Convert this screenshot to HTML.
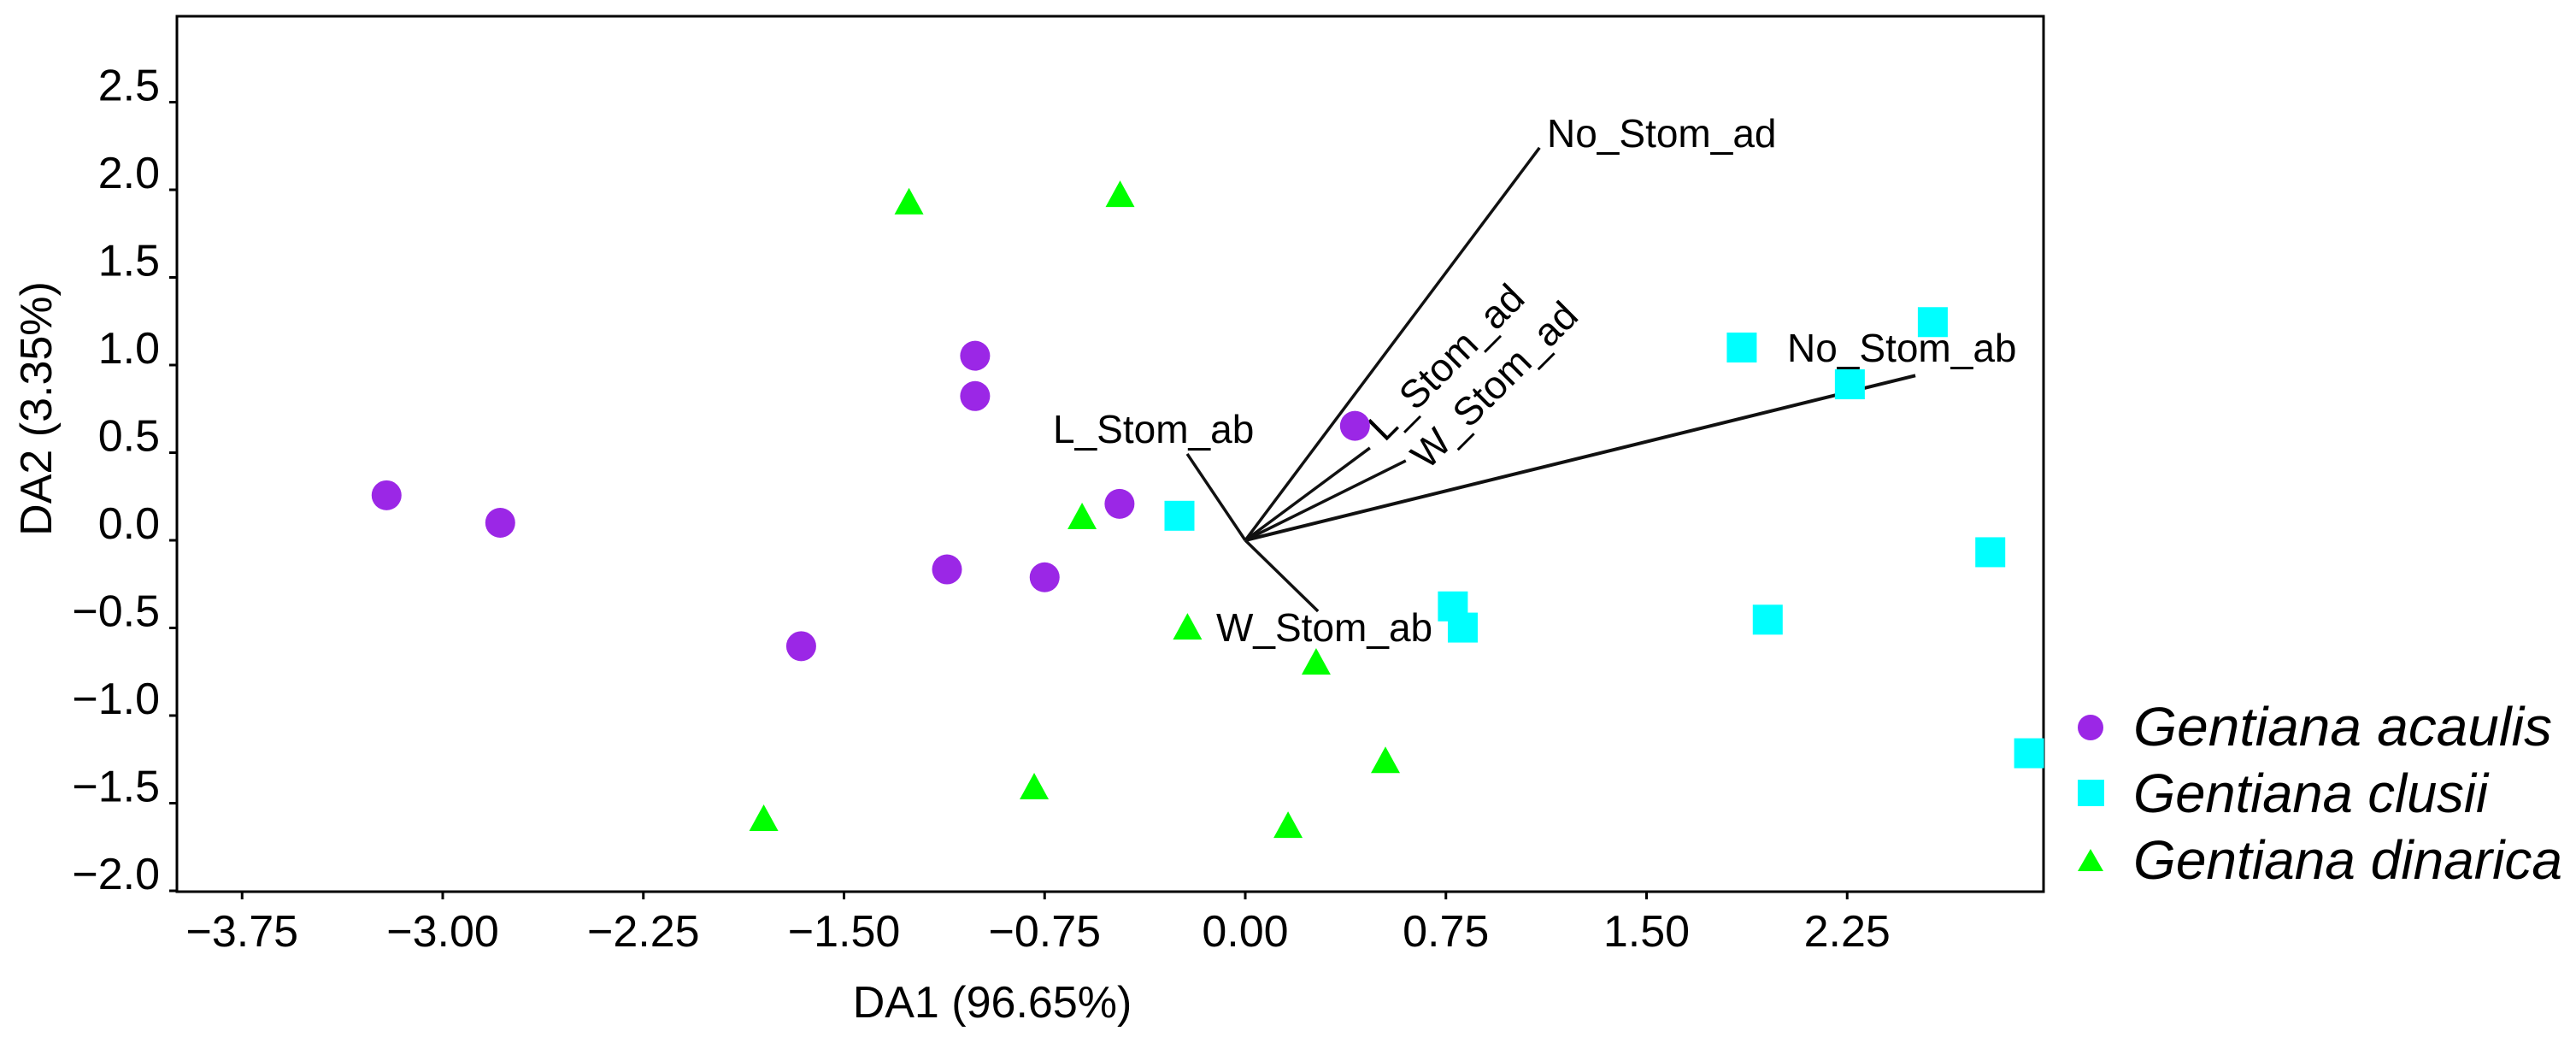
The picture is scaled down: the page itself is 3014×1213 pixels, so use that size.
<!DOCTYPE html>
<html><head><meta charset="utf-8"><title>DA biplot</title>
<style>html,body{margin:0;padding:0;background:#fff}svg{display:block}</style></head>
<body>
<svg id="chart" width="3014" height="1213" viewBox="0 0 3014 1213" xmlns="http://www.w3.org/2000/svg" font-family="'Liberation Sans', Arial, sans-serif"></svg>
<script>
const xTicks = [-3.75, -3.00, -2.25, -1.50, -0.75, 0.00, 0.75, 1.50, 2.25];
const xTickLabels = ["\u22123.75","\u22123.00","\u22122.25","\u22121.50","\u22120.75","0.00","0.75","1.50","2.25"];
const yTicks = [2.5, 2.0, 1.5, 1.0, 0.5, 0.0, -0.5, -1.0, -1.5, -2.0];
const yTickLabels = ["2.5","2.0","1.5","1.0","0.5","0.0","\u22120.5","\u22121.0","\u22121.5","\u22122.0"];
const acaulisX = [-3.21, -2.785, -1.01, -1.01, 0.41, -0.47, -1.115, -0.75, -1.66];
const acaulisY = [0.257, 0.10, 1.053, 0.823, 0.653, 0.208, -0.166, -0.211, -0.604];
const clusiiX = [-0.246, 1.856, 2.57, 2.26, 2.785, 0.776, 0.813, 1.953, 2.93];
const clusiiY = [0.14, 1.10, 1.245, 0.89, -0.068, -0.377, -0.498, -0.453, -1.215];
const dinaricaX = [-1.257, -0.468, -0.61, -0.216, 0.265, 0.524, -0.789, -1.80, 0.16];
const dinaricaY = [1.928, 1.97, 0.132, -0.498, -0.698, -1.26, -1.41, -1.59, -1.63];
const vecNames = ["No_Stom_ad","L_Stom_ad","W_Stom_ad","No_Stom_ab","L_Stom_ab","W_Stom_ab"];
const vecX = [1.10, 0.466, 0.60, 2.505, -0.217, 0.272];
const vecY = [2.24, 0.527, 0.454, 0.94, 0.493, -0.405];

const NS = "http://www.w3.org/2000/svg";
const svg = document.getElementById("chart");
const L = 207, R = 2391, T = 19, B = 1043;
const X0 = 1457, XS = 313, Y0 = 632, YS = 205;
const sx = v => X0 + v * XS;
const sy = v => Y0 - v * YS;
function el(tag, attrs, parent) {
  const e = document.createElementNS(NS, tag);
  for (const k in attrs) e.setAttribute(k, attrs[k]);
  (parent || svg).appendChild(e);
  return e;
}
const frame = el("rect", {x:L, y:T, width:R-L, height:B-T, fill:"none", stroke:"#000", "stroke-width":3});


const xAxis = el("g", {});


xTicks.forEach((v, i) => {
  el("line", {x1:sx(v), x2:sx(v), y1:B, y2:B+9, stroke:"#000", "stroke-width":3}, xAxis);
  const t = el("text", {x:sx(v), y:1107, "font-size":52, "text-anchor":"middle", fill:"#000"}, xAxis);
  
  
  t.textContent = xTickLabels[i];
});
const yAxis = el("g", {});


yTicks.forEach((v, i) => {
  el("line", {x1:L-9, x2:L, y1:sy(v), y2:sy(v), stroke:"#000", "stroke-width":3}, yAxis);
  const t = el("text", {x:187, y:sy(v)-2, "font-size":52, "text-anchor":"end", fill:"#000"}, yAxis);
  
  
  t.textContent = yTickLabels[i];
});
const xt = el("text", {x:1161, y:1190, "font-size":52, "text-anchor":"middle", fill:"#000"});


xt.textContent = "DA1 (96.65%)";
const yt = el("text", {x:0, y:0, "font-size":52, "text-anchor":"middle", fill:"#000", transform:"translate(60,478) rotate(-90)"});


yt.textContent = "DA2 (3.35%)";
const vecG = el("g", {});


vecNames.forEach((n, i) => {
  const ln = el("line", {x1:sx(0), y1:sy(0), x2:sx(vecX[i]), y2:sy(vecY[i]), stroke:"#111", "stroke-width": i===3 ? 4 : 3.5}, vecG);
  
  
});
const labels = [
  {t:"No_Stom_ad", x:1810, y:172, r:0},
  {t:"L_Stom_ad", x:1620, y:518, r:-45},
  {t:"W_Stom_ad", x:1670, y:551, r:-45},
  {t:"No_Stom_ab", x:2091, y:423, r:0},
  {t:"L_Stom_ab", x:1232, y:518, r:0},
  {t:"W_Stom_ab", x:1423, y:750, r:0}
];
labels.forEach(o => {
  const t = el("text", {x:o.x, y:o.y, "font-size":46, fill:"#000", transform: o.r ? `rotate(${o.r} ${o.x} ${o.y})` : ""}, vecG);
  
  
  t.textContent = o.t;
});
const pts = el("g", {});


acaulisX.forEach((v, i) => {
  const c = el("circle", {cx:sx(v), cy:sy(acaulisY[i]), r:17.5, fill:"#9b27e6"}, pts);
  
  
});
clusiiX.forEach((v, i) => {
  const s = el("rect", {x:sx(v)-17.5, y:sy(clusiiY[i])-17.5, width:35, height:35, fill:"#00ffff"}, pts);
  
  
});
dinaricaX.forEach((v, i) => {
  const cx = sx(v), cy = sy(dinaricaY[i]);
  const p = el("polygon", {points:`${cx},${cy-17} ${cx+17},${cy+14} ${cx-17},${cy+14}`, fill:"#00ff00"}, pts);
  
  
});
const lg = el("g", {});


const lc = el("circle", {cx:2446, cy:851, r:15, fill:"#9b27e6"}, lg);


const ls = el("rect", {x:2431, y:912, width:31, height:31, fill:"#00ffff"}, lg);


const lt = el("polygon", {points:"2446,993 2461,1019 2431,1019", fill:"#00ff00"}, lg);


[["Gentiana acaulis",872,490],["Gentiana clusii",950,415],["Gentiana dinarica",1028,502]].forEach(a => {
  const t = el("text", {x:2496, y:a[1], "font-size":64, "font-style":"italic", fill:"#000", textLength:a[2], lengthAdjust:"spacingAndGlyphs"}, lg);
  
  
  t.textContent = a[0];
});
</script>
</body></html>
